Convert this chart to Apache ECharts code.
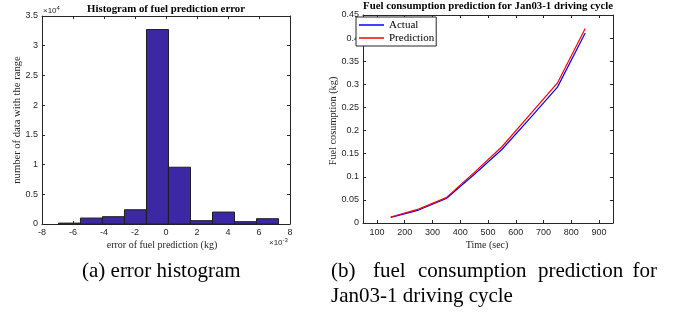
<!DOCTYPE html>
<html>
<head>
<meta charset="utf-8">
<script src="https://cdn.jsdelivr.net/npm/echarts@6/dist/echarts.min.js"></script>
<style>
html,body{margin:0;padding:0;background:#fff;}
#c{width:679px;height:320px;}
</style>
</head>
<body>
<div id="c"></div>
<script>
// ---- Data: histogram (x in units of 1e-3 kg) ----
const binEdges = [-6.93, -5.52, -4.10, -2.68, -1.26, 0.16, 1.58, 3.00, 4.42, 5.84, 7.26];
const binCounts = [150, 1000, 1230, 2400, 32720, 9550, 560, 2010, 390, 890];
const histXTicks = [-8, -6, -4, -2, 0, 2, 4, 6, 8];
const histYTicks = [0, 0.5, 1, 1.5, 2, 2.5, 3, 3.5]; // x 1e4

// ---- Data: fuel consumption ----
const timeSec = [150, 250, 350, 450, 550, 650, 750, 850];
const actualKg = [0.012, 0.028, 0.053, 0.105, 0.159, 0.226, 0.294, 0.411];
const predKg = [0.013, 0.030, 0.055, 0.109, 0.165, 0.234, 0.303, 0.421];
const timeTicks = [100, 200, 300, 400, 500, 600, 700, 800, 900];

const histData = binCounts.map((c, i) => [binEdges[i], binEdges[i + 1], c]);

const SANS = '"Liberation Sans", Arial, sans-serif';
const SERIF = '"Liberation Serif", "Times New Roman", serif';
const AX = '#262626';

const tickLabel = { fontFamily: SANS, fontSize: 9, color: AX };

function frameAxis(extra) {
  return Object.assign({
    axisLine: { show: true, onZero: false, lineStyle: { color: AX, width: 1 } },
    axisTick: { show: true, inside: true, length: 3, lineStyle: { color: AX } },
    axisLabel: { show: false },
    splitLine: { show: false }
  }, extra);
}

const chart = echarts.init(document.getElementById('c'), null, { renderer: 'canvas' });

const capStyle = { fontFamily: SERIF, fontSize: 21, fill: '#000', verticalAlign: 'middle' };
function cap(x, y, text, align) {
  return { type: 'text', x: x, y: y, style: Object.assign({ text: text, align: align || 'left' }, capStyle) };
}

chart.setOption({
  animation: false,
  backgroundColor: '#fff',
  grid: [
    { left: 42, top: 16, width: 248, height: 208, containLabel: false },
    { left: 363, top: 15, width: 250, height: 208, containLabel: false }
  ],
  xAxis: [
    {
      type: 'value', gridIndex: 0, min: -8, max: 8, interval: 2, position: 'bottom',
      axisLine: { show: true, onZero: false, lineStyle: { color: AX, width: 1 } },
      axisTick: { show: true, inside: true, length: 3, lineStyle: { color: AX } },
      axisLabel: Object.assign({ margin: 4 }, tickLabel),
      splitLine: { show: false }
    },
    frameAxis({ type: 'value', gridIndex: 0, min: -8, max: 8, interval: 2, position: 'top' }),
    {
      type: 'value', gridIndex: 1, min: 50, max: 950, position: 'bottom',
      axisLine: { show: true, onZero: false, lineStyle: { color: AX, width: 1 } },
      axisTick: { show: true, inside: true, length: 3, customValues: timeTicks, lineStyle: { color: AX } },
      axisLabel: Object.assign({ margin: 5, customValues: timeTicks }, tickLabel),
      splitLine: { show: false }
    },
    frameAxis({
      type: 'value', gridIndex: 1, min: 50, max: 950, position: 'top',
      axisTick: { show: true, inside: true, length: 3, customValues: timeTicks, lineStyle: { color: AX } }
    })
  ],
  yAxis: [
    {
      type: 'value', gridIndex: 0, min: 0, max: 35000, interval: 5000, position: 'left',
      axisLine: { show: true, onZero: false, lineStyle: { color: AX, width: 1 } },
      axisTick: { show: true, inside: true, length: 3, lineStyle: { color: AX } },
      axisLabel: Object.assign({ margin: 4, formatter: v => String(histYTicks[Math.round(v / 5000)]) }, tickLabel),
      splitLine: { show: false }
    },
    frameAxis({ type: 'value', gridIndex: 0, min: 0, max: 35000, interval: 5000, position: 'right' }),
    {
      type: 'value', gridIndex: 1, min: 0, max: 0.45, interval: 0.05, position: 'left',
      axisLine: { show: true, onZero: false, lineStyle: { color: AX, width: 1 } },
      axisTick: { show: true, inside: true, length: 3, lineStyle: { color: AX } },
      axisLabel: Object.assign({ margin: 4, formatter: v => String(+v.toFixed(2)) }, tickLabel),
      splitLine: { show: false }
    },
    frameAxis({ type: 'value', gridIndex: 1, min: 0, max: 0.45, interval: 0.05, position: 'right' })
  ],
  legend: {
    orient: 'vertical', left: 356, top: 17,
    padding: [2, 2, 2, 3], itemGap: 1, itemWidth: 25, itemHeight: 1.5,
    symbolKeepAspect: false,
    borderColor: AX, borderWidth: 1, backgroundColor: '#fff',
    textStyle: { fontFamily: SERIF, fontSize: 11, color: '#000', lineHeight: 12 },
    data: [{ name: 'Actual', icon: 'rect' }, { name: 'Prediction', icon: 'rect' }]
  },
  series: [
    {
      type: 'custom', xAxisIndex: 0, yAxisIndex: 0,
      data: histData,
      renderItem: function (params, api) {
        const p0 = api.coord([api.value(0), 0]);
        const p1 = api.coord([api.value(1), api.value(2)]);
        return {
          type: 'rect',
          shape: { x: p0[0], y: p1[1], width: p1[0] - p0[0], height: p0[1] - p1[1] },
          style: { fill: '#3c28a3', stroke: '#1e1e1e', lineWidth: 1 }
        };
      }
    },
    {
      name: 'Actual', type: 'line', xAxisIndex: 2, yAxisIndex: 2,
      data: timeSec.map((t, i) => [t, actualKg[i]]),
      symbol: 'none', lineStyle: { color: '#0000ff', width: 1.2 }, itemStyle: { color: '#0000ff' }
    },
    {
      name: 'Prediction', type: 'line', xAxisIndex: 2, yAxisIndex: 2,
      data: timeSec.map((t, i) => [t, predKg[i]]),
      symbol: 'none', lineStyle: { color: '#ff0000', width: 1.2 }, itemStyle: { color: '#ff0000' }
    }
  ],
  graphic: [
    { type: 'text', x: 166, y: 9, style: { text: 'Histogram of fuel prediction error', fontFamily: SERIF, fontWeight: 'bold', fontSize: 10.8, fill: '#000', align: 'center', verticalAlign: 'middle' } },
    { type: 'text', x: 488, y: 6, style: { text: 'Fuel consumption prediction for Jan03-1 driving cycle', fontFamily: SERIF, fontWeight: 'bold', fontSize: 10.8, fill: '#000', align: 'center', verticalAlign: 'middle' } },
    { type: 'text', x: 43, y: 11, style: { text: '×10{s|4}', rich: { s: { fontSize: 6, padding: [0, 0, 5, 0] } }, fontFamily: SANS, fontSize: 8, fill: AX, align: 'left', verticalAlign: 'middle' } },
    { type: 'text', x: 269, y: 243, style: { text: '×10{s|-3}', rich: { s: { fontSize: 6, padding: [0, 0, 5, 0] } }, fontFamily: SANS, fontSize: 8, fill: AX, align: 'left', verticalAlign: 'middle' } },
    { type: 'text', x: 17, y: 120, rotation: Math.PI / 2, style: { text: 'number of data with the range', fontFamily: SERIF, fontSize: 10.6, fill: AX, align: 'center', verticalAlign: 'middle' } },
    { type: 'text', x: 333, y: 121, rotation: Math.PI / 2, style: { text: 'Fuel cosumption (kg)', fontFamily: SERIF, fontSize: 10.3, fill: AX, align: 'center', verticalAlign: 'middle' } },
    { type: 'text', x: 162, y: 245, style: { text: 'error of fuel prediction (kg)', fontFamily: SERIF, fontSize: 10, fill: AX, align: 'center', verticalAlign: 'middle' } },
    { type: 'text', x: 487, y: 245, style: { text: 'Time (sec)', fontFamily: SERIF, fontSize: 10, fill: AX, align: 'center', verticalAlign: 'middle' } },
    cap(82, 271, '(a) error histogram'),
    cap(331, 271, '(b)'),
    cap(373, 271, 'fuel'),
    cap(418, 271, 'consumption'),
    cap(538, 271, 'prediction'),
    cap(657, 271, 'for', 'right'),
    cap(331, 296, 'Jan03-1 driving cycle')
  ]
});
</script>
</body>
</html>
